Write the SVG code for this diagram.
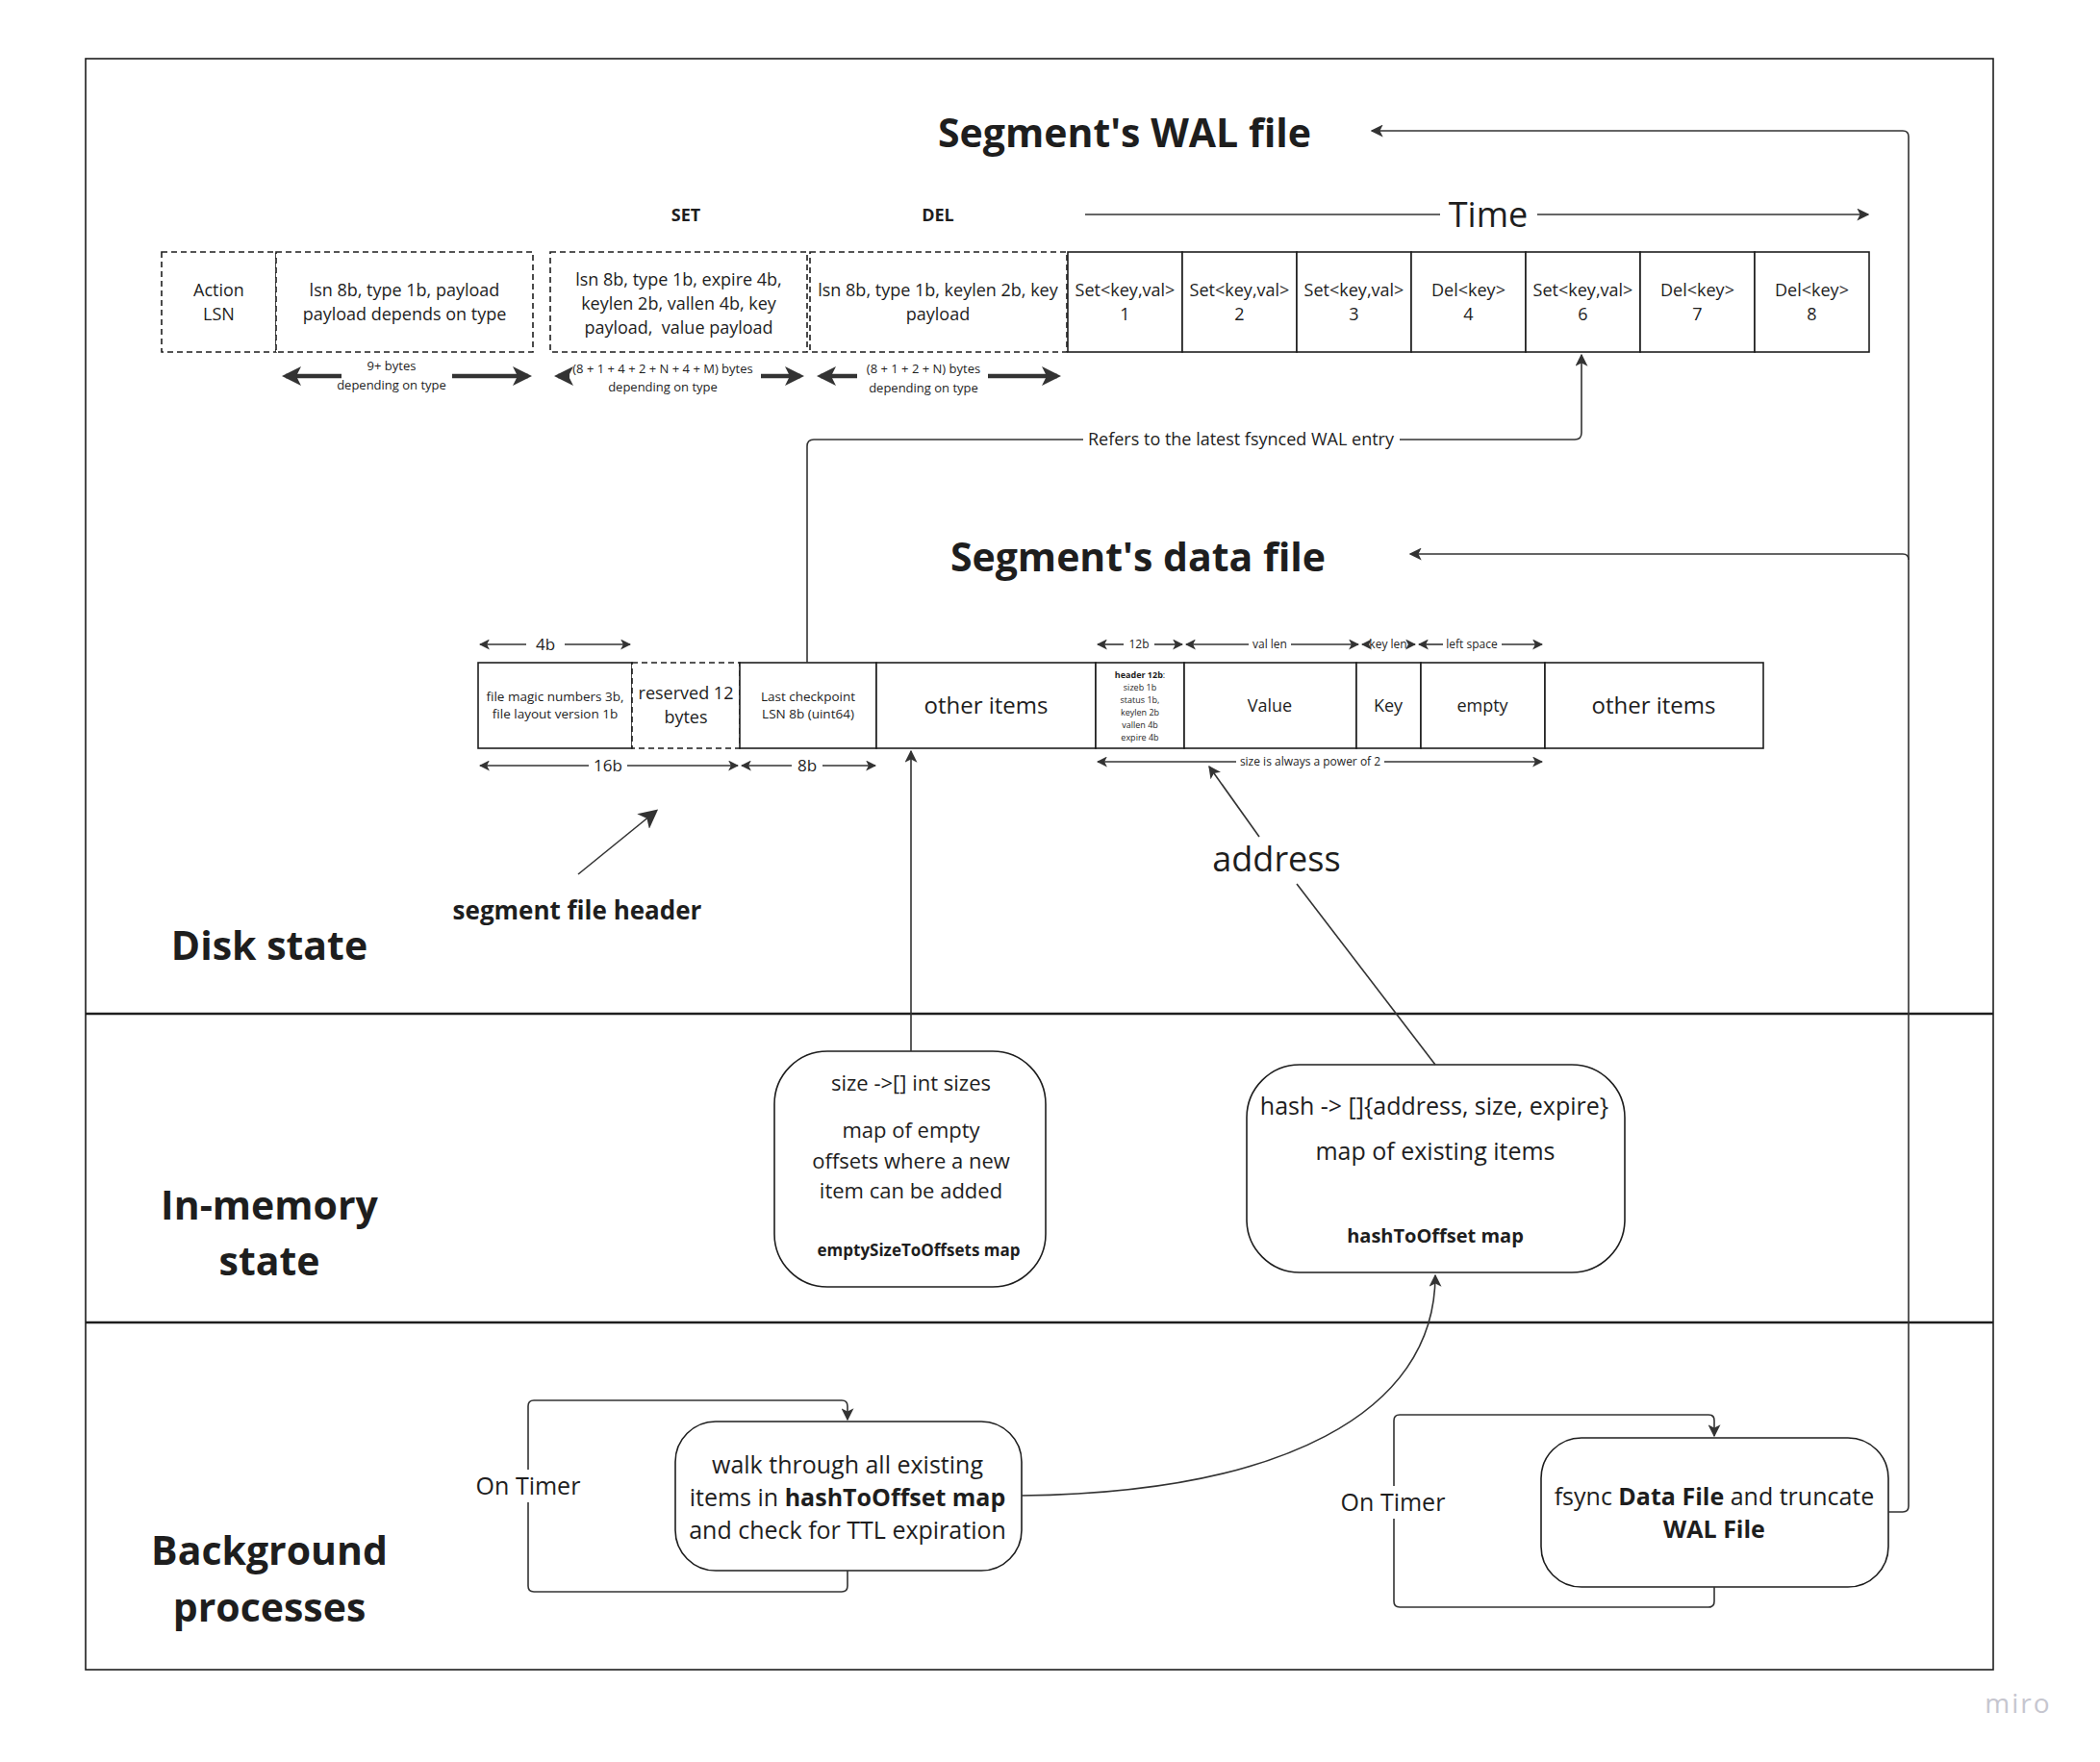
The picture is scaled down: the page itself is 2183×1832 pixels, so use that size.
<svg xmlns="http://www.w3.org/2000/svg" width="2183" height="1832" viewBox="0 0 2183 1832">
<style>
.t{font-family:"Open Sans","Liberation Sans",sans-serif;fill:#1e1e1e;text-anchor:middle}
.b{font-weight:700}
.box{fill:#fff;stroke:#1e1e1e;stroke-width:1.6}
.dash{fill:#fff;stroke:#1e1e1e;stroke-width:1.6;stroke-dasharray:6 4}
.ln{fill:none;stroke:#333;stroke-width:1.6}
.thk{fill:none;stroke:#333;stroke-width:4.5}
.sec{fill:none;stroke:#1e1e1e;stroke-width:2.5}
.rb{fill:#fff;stroke:#1e1e1e;stroke-width:1.6}
</style>
<defs>
<marker id="a" viewBox="0 0 10 10" refX="9" refY="5" markerWidth="13" markerHeight="13" markerUnits="userSpaceOnUse" orient="auto-start-reverse"><path d="M0,0 L10,5 L0,10 L2.5,5 z" fill="#333"/></marker>
<marker id="ab" viewBox="0 0 10 10" refX="8" refY="5" markerWidth="20" markerHeight="20" markerUnits="userSpaceOnUse" orient="auto-start-reverse"><path d="M0,0 L10,5 L0,10 L2.5,5 z" fill="#333"/></marker>
<marker id="ad" viewBox="0 0 10 10" refX="9" refY="5" markerWidth="11" markerHeight="11" markerUnits="userSpaceOnUse" orient="auto-start-reverse"><path d="M0,0 L10,5 L0,10 L2.5,5 z" fill="#333"/></marker>
</defs>
<rect width="2183" height="1832" fill="#fff"/>
<g id="frame">
<rect x="89" y="61" width="1983" height="1675" fill="none" stroke="#1e1e1e" stroke-width="1.6"/>
<line class="sec" x1="89" y1="1054" x2="2072" y2="1054"/>
<line class="sec" x1="89" y1="1375" x2="2072" y2="1375"/>
</g>
<g id="section-labels">
<text class="t b" x="280" y="998" font-size="41">Disk state</text>
<text class="t b" x="280" y="1268" font-size="41">In-memory</text>
<text class="t b" x="280" y="1326" font-size="41">state</text>
<text class="t b" x="280" y="1627" font-size="41">Background</text>
<text class="t b" x="280" y="1686" font-size="41">processes</text>
</g>
<g id="wal-title"><text class="t b" x="1169" y="153" font-size="41">Segment's WAL file</text></g>
<g id="data-title"><text class="t b" x="1183" y="594" font-size="41">Segment's data file</text></g>
<g id="type-labels">
<text class="t b" x="713" y="230" font-size="18">SET</text>
<text class="t b" x="975" y="230" font-size="18">DEL</text>
</g>
<g id="time-axis">
<line class="ln" x1="1128" y1="223" x2="1497" y2="223"/>
<text class="t" x="1547" y="236" font-size="36">Time</text>
<line class="ln" x1="1598" y1="223" x2="1942" y2="223" marker-end="url(#a)"/>
</g>
<g id="wal-format">
<rect class="dash" x="168" y="262" width="119" height="104"/>
<rect class="dash" x="287" y="262" width="267" height="104"/>
<text class="t" x="227.5" y="308" font-size="18">Action</text>
<text class="t" x="227.5" y="333" font-size="18">LSN</text>
<text class="t" x="420.5" y="308" font-size="18">lsn 8b, type 1b, payload</text>
<text class="t" x="420.5" y="333" font-size="18">payload depends on type</text>
</g>
<g id="wal-set-format">
<rect class="dash" x="572" y="262" width="267" height="104"/>
<text class="t" x="705.5" y="297" font-size="18">lsn 8b, type 1b, expire 4b,</text>
<text class="t" x="705.5" y="322" font-size="18">keylen 2b, vallen 4b, key</text>
<text class="t" x="705.5" y="347" font-size="18" xml:space="preserve">payload,  value payload</text>
</g>
<g id="wal-del-format">
<rect class="dash" x="842" y="262" width="267" height="104"/>
<text class="t" x="975" y="308" font-size="18">lsn 8b, type 1b, keylen 2b, key</text>
<text class="t" x="975" y="333" font-size="18">payload</text>
</g>
<g id="wal-entries">
<rect class="box" x="1110" y="262" width="119" height="104"/>
<rect class="box" x="1229" y="262" width="119" height="104"/>
<rect class="box" x="1348" y="262" width="119" height="104"/>
<rect class="box" x="1467" y="262" width="119" height="104"/>
<rect class="box" x="1586" y="262" width="119" height="104"/>
<rect class="box" x="1705" y="262" width="119" height="104"/>
<rect class="box" x="1824" y="262" width="119" height="104"/>
<text class="t" x="1169.5" y="308" font-size="18">Set&lt;key,val&gt;</text><text class="t" x="1169.5" y="333" font-size="18">1</text>
<text class="t" x="1288.5" y="308" font-size="18">Set&lt;key,val&gt;</text><text class="t" x="1288.5" y="333" font-size="18">2</text>
<text class="t" x="1407.5" y="308" font-size="18">Set&lt;key,val&gt;</text><text class="t" x="1407.5" y="333" font-size="18">3</text>
<text class="t" x="1526.5" y="308" font-size="18">Del&lt;key&gt;</text><text class="t" x="1526.5" y="333" font-size="18">4</text>
<text class="t" x="1645.5" y="308" font-size="18">Set&lt;key,val&gt;</text><text class="t" x="1645.5" y="333" font-size="18">6</text>
<text class="t" x="1764.5" y="308" font-size="18">Del&lt;key&gt;</text><text class="t" x="1764.5" y="333" font-size="18">7</text>
<text class="t" x="1883.5" y="308" font-size="18">Del&lt;key&gt;</text><text class="t" x="1883.5" y="333" font-size="18">8</text>
</g>
<g id="wal-sizes">
<text class="t" x="407" y="385" font-size="13">9+ bytes</text>
<text class="t" x="407" y="405" font-size="13">depending on type</text>
<text class="t" x="689" y="388" font-size="13">(8 + 1 + 4 + 2 + N + 4 + M) bytes</text>
<text class="t" x="689" y="407" font-size="13">depending on type</text>
<text class="t" x="960" y="388" font-size="13">(8 + 1 + 2 + N) bytes</text>
<text class="t" x="960" y="408" font-size="13">depending on type</text>
<path class="thk" d="M355,391 H297" marker-end="url(#ab)"/>
<path class="thk" d="M470,391 H549" marker-end="url(#ab)"/>
<path class="thk" d="M592,391 H580" marker-end="url(#ab)"/>
<path class="thk" d="M791,391 H832" marker-end="url(#ab)"/>
<path class="thk" d="M891,391 H853" marker-end="url(#ab)"/>
<path class="thk" d="M1027,391 H1099" marker-end="url(#ab)"/>
</g>
<g id="data-header">
<rect class="box" x="497" y="689" width="160" height="89"/>
<rect class="dash" x="657" y="689" width="112" height="89"/>
<rect class="box" x="769" y="689" width="142" height="89"/>
<text class="t" x="577" y="729" font-size="13.5">file magic numbers 3b,</text>
<text class="t" x="577" y="747" font-size="13.5">file layout version 1b</text>
<text class="t" x="713" y="727" font-size="18">reserved 12</text>
<text class="t" x="713" y="752" font-size="18">bytes</text>
<text class="t" x="840" y="729" font-size="13.5">Last checkpoint</text>
<text class="t" x="840" y="747" font-size="13.5">LSN 8b (uint64)</text>
</g>
<g id="data-items">
<rect class="box" x="911" y="689" width="228" height="89"/>
<rect class="box" x="1139" y="689" width="92" height="89"/>
<rect class="box" x="1231" y="689" width="179" height="89"/>
<rect class="box" x="1410" y="689" width="67" height="89"/>
<rect class="box" x="1477" y="689" width="129" height="89"/>
<rect class="box" x="1606" y="689" width="227" height="89"/>
<text class="t" x="1025" y="742" font-size="24">other items</text>
<text class="t" x="1185" y="705" font-size="9"><tspan font-weight="700">header 12b</tspan>:</text>
<text class="t" x="1185" y="718" font-size="9">sizeb 1b</text>
<text class="t" x="1185" y="731" font-size="9">status 1b,</text>
<text class="t" x="1185" y="744" font-size="9">keylen 2b</text>
<text class="t" x="1185" y="757" font-size="9">vallen 4b</text>
<text class="t" x="1185" y="770" font-size="9">expire 4b</text>
<text class="t" x="1320" y="740" font-size="18">Value</text>
<text class="t" x="1443" y="740" font-size="18">Key</text>
<text class="t" x="1541" y="740" font-size="18">empty</text>
<text class="t" x="1719" y="742" font-size="24">other items</text>
</g>
<g id="data-dimensions">
<text class="t" x="567" y="676" font-size="17">4b</text>
<path class="ln" d="M547,670 H499" marker-end="url(#ad)"/>
<path class="ln" d="M587,670 H655" marker-end="url(#ad)"/>
<text class="t" x="1184" y="674" font-size="12">12b</text>
<path class="ln" d="M1168,670 H1141" marker-end="url(#ad)"/>
<path class="ln" d="M1200,670 H1229" marker-end="url(#ad)"/>
<text class="t" x="1320" y="674" font-size="12">val len</text>
<path class="ln" d="M1298,670 H1233" marker-end="url(#ad)"/>
<path class="ln" d="M1342,670 H1412" marker-end="url(#ad)"/>
<text class="t" x="1443" y="674" font-size="12">key len</text>
<path class="ln" d="M1422,670 H1416" marker-end="url(#ad)"/>
<path class="ln" d="M1465,670 H1471" marker-end="url(#ad)"/>
<text class="t" x="1530" y="674" font-size="12">left space</text>
<path class="ln" d="M1500,670 H1475" marker-end="url(#ad)"/>
<path class="ln" d="M1561,670 H1603" marker-end="url(#ad)"/>
<text class="t" x="632" y="802" font-size="17">16b</text>
<path class="ln" d="M612,796 H499" marker-end="url(#ad)"/>
<path class="ln" d="M652,796 H767" marker-end="url(#ad)"/>
<text class="t" x="839" y="802" font-size="17">8b</text>
<path class="ln" d="M823,796 H771" marker-end="url(#ad)"/>
<path class="ln" d="M855,796 H910" marker-end="url(#ad)"/>
<text class="t" x="1362" y="796" font-size="12">size is always a power of 2</text>
<path class="ln" d="M1285,792 H1141" marker-end="url(#ad)"/>
<path class="ln" d="M1439,792 H1603" marker-end="url(#ad)"/>
</g>
<g id="segment-header-label">
<text class="t b" x="600" y="956" font-size="26">segment file header</text>
</g>
<g id="address-label">
<text class="t" x="1327" y="906" font-size="36">address</text>
</g>
<g id="empty-size-map">
<rect class="rb" x="805" y="1093" width="282" height="245" rx="55" ry="55"/>
<text class="t" x="947" y="1134" font-size="22">size -&gt;[] int sizes</text>
<text class="t" x="947" y="1183" font-size="22">map of empty</text>
<text class="t" x="947" y="1215" font-size="22">offsets where a new</text>
<text class="t" x="947" y="1246" font-size="22">item can be added</text>
<text class="t b" x="955" y="1306" font-size="17">emptySizeToOffsets map</text>
</g>
<g id="hash-map">
<rect class="rb" x="1296" y="1107" width="393" height="216" rx="55" ry="55"/>
<text class="t" x="1491" y="1159" font-size="25">hash -&gt; []{address, size, expire}</text>
<text class="t" x="1492" y="1206" font-size="25">map of existing items</text>
<text class="t b" x="1492" y="1292" font-size="20">hashToOffset map</text>
</g>
<g id="ttl-process">
<rect class="rb" x="702" y="1478" width="360" height="155" rx="42" ry="42"/>
<text class="t" x="881" y="1532" font-size="25">walk through all existing</text>
<text class="t" x="881" y="1566" font-size="25">items in <tspan font-weight="700">hashToOffset map</tspan></text>
<text class="t" x="881" y="1600" font-size="25">and check for TTL expiration</text>
</g>
<g id="fsync-process">
<rect class="rb" x="1602" y="1495" width="361" height="155" rx="42" ry="42"/>
<text class="t" x="1782" y="1565" font-size="25">fsync <tspan font-weight="700">Data File</tspan> and truncate</text>
<text class="t b" x="1782" y="1599" font-size="25">WAL File</text>
</g>
<g id="connectors">
<path class="ln" d="M839,689 V464 Q839,457 846,457 H1126"/>
<path class="ln" d="M1455,457 H1637 Q1644,457 1644,450 V369" marker-end="url(#a)"/>
<text class="t" x="1290" y="463" font-size="18">Refers to the latest fsynced WAL entry</text>
<path class="ln" d="M1963,1572 H1978 Q1984,1572 1984,1566 V142 Q1984,136 1978,136 H1426" marker-end="url(#a)"/>
<path class="ln" d="M1984,582 Q1984,576 1978,576 H1466" marker-end="url(#a)"/>
<path class="ln" d="M601,909 L681,844" stroke-width="2.5" marker-end="url(#ab)"/>
<path class="ln" d="M1309,870 L1257,797" marker-end="url(#a)"/>
<path class="ln" d="M1492,1107 L1348,919"/>
<path class="ln" d="M947,1093 V781" marker-end="url(#a)"/>
<path class="ln" d="M1062,1555 C1330,1552 1492,1470 1492,1326" marker-end="url(#a)"/>
<path class="ln" d="M881,1633 V1649 Q881,1655 875,1655 H555 Q549,1655 549,1649 V1462 Q549,1456 555,1456 H875 Q881,1456 881,1462 V1476" marker-end="url(#a)"/>
<path class="ln" d="M1782,1650 V1665 Q1782,1671 1776,1671 H1455 Q1449,1671 1449,1665 V1477 Q1449,1471 1455,1471 H1776 Q1782,1471 1782,1477 V1493" marker-end="url(#a)"/>
<rect x="492" y="1528" width="114" height="34" fill="#fff"/>
<text class="t" x="549" y="1554" font-size="25">On Timer</text>
<rect x="1391" y="1545" width="114" height="34" fill="#fff"/>
<text class="t" x="1448" y="1571" font-size="25">On Timer</text>
</g>
<g id="watermark"><text class="t" x="2098" y="1781" font-size="28" style="fill:#c6c6cf" letter-spacing="2">miro</text></g>
</svg>
